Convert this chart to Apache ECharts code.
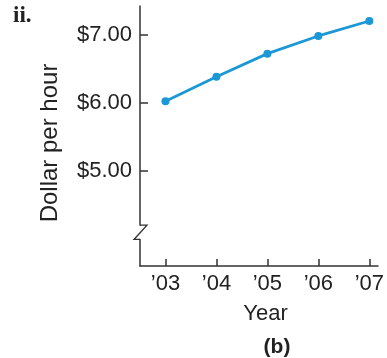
<!DOCTYPE html>
<html>
<head>
<meta charset="utf-8">
<script src="https://cdn.jsdelivr.net/npm/echarts@6/dist/echarts.min.js"></script>
<style>html,body{margin:0;padding:0;background:#fff}#c{width:387px;height:358px}</style>
</head>
<body>
<div id="c"></div>
<script>
const years = [2003, 2004, 2005, 2006, 2007];
const wages = [6.02, 6.38, 6.72, 6.98, 7.20];
const yTicks = [5, 6, 7];
const xTicks = [2003, 2004, 2005, 2006, 2007];
const breakRange = [3.99, 4.20];

const FONT = '"Liberation Sans", Arial, Helvetica, sans-serif';
const chart = echarts.init(document.getElementById('c'), null, {renderer: 'canvas'});
const axisColor = '#333';
chart.setOption({
  animation: false,
  title: [
    {text: 'ii.', left: 8, top: 0, textStyle: {fontFamily: '"Liberation Serif", "DejaVu Serif", serif', fontWeight: 'bold', fontSize: 23, color: '#222'}},
    {text: '(b)', left: 272, top: 332, textAlign: 'center', textStyle: {fontFamily: FONT, fontWeight: 'bold', fontSize: 21, color: '#222'}}
  ],
  grid: {left: 140, right: 0, top: 6, bottom: 92, containLabel: false},
  xAxis: {
    type: 'value', min: 2002.5, max: 2007.17,
    name: 'Year', nameLocation: 'middle', nameGap: 37,
    nameTextStyle: {fontFamily: FONT, fontSize: 22, color: '#222', padding: [0, 0, 0, 13]},
    axisLine: {show: true, lineStyle: {color: axisColor, width: 1.5}},
    axisTick: {show: true, inside: true, length: 7, customValues: xTicks, lineStyle: {color: axisColor, width: 1.5}},
    axisLabel: {customValues: xTicks, margin: 7, fontFamily: FONT, fontSize: 22, color: '#222',
      formatter: v => '\u2019' + String(v).slice(2)},
    splitLine: {show: false}
  },
  yAxis: {
    type: 'value', min: 3.6, max: 7.42,
    name: 'Dollar per hour', nameLocation: 'middle', nameRotate: 90, nameGap: 78,
    nameTextStyle: {fontFamily: FONT, fontSize: 24, color: '#222', padding: [0, 14, 0, 0]},
    axisLine: {show: true, lineStyle: {color: axisColor, width: 1.5}},
    axisTick: {show: true, inside: true, length: 8, customValues: yTicks, lineStyle: {color: axisColor, width: 1.5}},
    axisLabel: {customValues: yTicks, margin: 8, fontFamily: FONT, fontSize: 22, color: '#222',
      formatter: v => '$' + v.toFixed(2)},
    splitLine: {show: false}
  },
  series: [{
    type: 'line',
    data: years.map((y, i) => [y, wages[i]]),
    symbol: 'circle', symbolSize: 8,
    lineStyle: {color: '#1b98d5', width: 2.8},
    itemStyle: {color: '#1b98d5'}
  }]
});
// axis break zigzag (decoration)
const ax = chart.convertToPixel({gridIndex: 0}, [2002.5, breakRange[1]]);
const bx = chart.convertToPixel({gridIndex: 0}, [2002.5, breakRange[0]]);
const x0 = ax[0], yTop = ax[1], yBot = bx[1];
chart.setOption({
  graphic: [
    {type: 'rect', shape: {x: x0 - 2, y: yTop + 0.5, width: 4, height: yBot - yTop - 1}, style: {fill: '#fff'}, z: 100},
    {type: 'polyline', shape: {points: [[x0, yTop], [x0 + 7, yTop], [x0 - 6, yBot], [x0, yBot]]},
      style: {stroke: axisColor, lineWidth: 1.3, fill: null}, z: 101}
  ]
});
</script>
</body>
</html>
